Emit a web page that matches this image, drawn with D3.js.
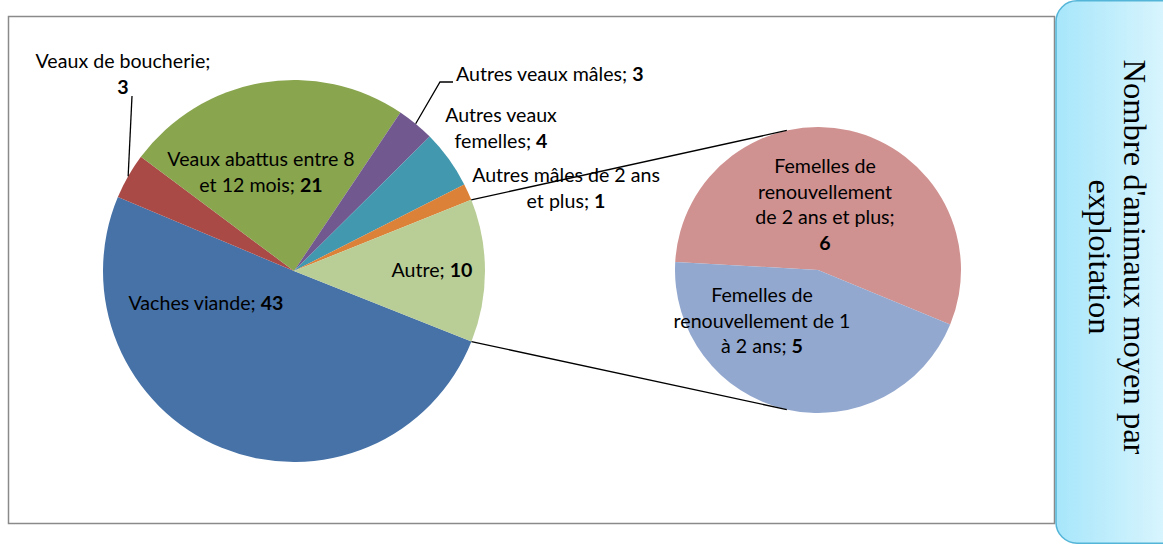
<!DOCTYPE html>
<html>
<head>
<meta charset="utf-8">
<script src="https://cdn.jsdelivr.net/npm/d3@7"></script>
<style>
  html, body { margin: 0; padding: 0; background: #fff; }
  svg { display: block; }
  .lbl { font-family: Lato, "Open Sans", sans-serif; font-size: 19.6px; fill: #000; }
  .side { font-family: "Liberation Serif", "DejaVu Serif", serif; font-size: 32.5px; fill: #000; }
</style>
</head>
<body>
<svg id="chart" width="1163" height="544"></svg>
<script>
// main pie, clockwise from the slice that starts right after "Autre"
var mainNames = ["Vaches viande", "Veaux de boucherie", "Veaux abattus entre 8 et 12 mois",
                 "Autres veaux mâles", "Autres veaux femelles", "Autres mâles de 2 ans et plus", "Autre"];
var mainValues = [42.8, 3.3, 20.6, 2.7, 4.2, 1.2, 10.3];
// how each label wraps; the rounded value goes (bold) after the last line
var mainLines = [
  ["Vaches viande; "],
  ["Veaux de boucherie;", ""],
  ["Veaux abattus entre 8", "et 12 mois; "],
  ["Autres veaux mâles; "],
  ["Autres veaux", "femelles; "],
  ["Autres mâles de 2 ans", "et plus; "],
  ["Autre; "]
];

// second pie : breakdown of "Autre"
var subNames = ["Femelles de renouvellement de 2 ans et plus", "Femelles de renouvellement de 1 à 2 ans"];
var subValues = [5.7, 4.6];
var subLines = [
  ["Femelles de", "renouvellement", "de 2 ans et plus;", ""],
  ["Femelles de", "renouvellement de 1", "à 2 ans; "]
];

var sideTitle = ["Nombre d'animaux moyen par", "exploitation"];

var mainColors = ["#4672a7", "#a94a47", "#89a54e", "#71598f", "#4198af", "#db8238", "#b9cd96"];
var subColors = ["#d09291", "#93a8cf"];

var svg = d3.select("#chart");
var deg = Math.PI / 180;
var lineH = 25.5;

// chart frame
svg.append("rect")
  .attr("x", 8.5).attr("y", 16.5)
  .attr("width", 1046).attr("height", 507)
  .attr("fill", "#fff")
  .attr("stroke", "#8a8a8a")
  .attr("stroke-width", 1.5);

// pies
var main = { cx: 294, cy: 271, r: 191 };
var sub = { cx: 818, cy: 270, r: 143 };

var mainPie = d3.pie().sort(null).startAngle(111.7 * deg).endAngle(471.7 * deg);
var subPie = d3.pie().sort(null).startAngle(-86.8 * deg).endAngle(273.2 * deg);

var mainArcs = mainPie(mainValues);
var subArcs = subPie(subValues);

var mainArc = d3.arc().innerRadius(0).outerRadius(main.r);
var subArc = d3.arc().innerRadius(0).outerRadius(sub.r);

var gMain = svg.append("g").attr("transform", "translate(" + main.cx + "," + main.cy + ")");
var gSub = svg.append("g").attr("transform", "translate(" + sub.cx + "," + sub.cy + ")");

gMain.selectAll("path").data(mainArcs).enter().append("path")
  .attr("d", mainArc)
  .attr("fill", function(d, i) { return mainColors[i]; });

gSub.selectAll("path").data(subArcs).enter().append("path")
  .attr("d", subArc)
  .attr("fill", function(d, i) { return subColors[i]; });

function polar(a, r) { return [r * Math.sin(a), -r * Math.cos(a)]; }

// label placement (relative to the pie centre): x centre, first baseline
var mainLabelPos = [
  { x: -88, y: 39, anchor: "middle" },
  { x: -171, y: -203, anchor: "middle" },
  { x: -33, y: -105, anchor: "middle" },
  { x: 162, y: -190, anchor: "start" },
  { x: 207, y: -149, anchor: "middle" },
  { x: 272, y: -89, anchor: "middle" },
  { x: 138, y: 6, anchor: "middle" }
];
var subLabelPos = [
  { x: 7, y: -97, anchor: "middle" },
  { x: -56, y: 32, anchor: "middle" }
];

// leader lines for the two outside labels that need one
var leaders = [
  { slice: 1, pts: [[-162, -175]] },
  { slice: 3, pts: [[146, -189], [159, -189]] }
];
leaders.forEach(function(l) {
  var d = mainArcs[l.slice];
  var start = polar((d.startAngle + d.endAngle) / 2, main.r);
  gMain.append("path")
    .attr("d", d3.line()([start].concat(l.pts)))
    .attr("fill", "none")
    .attr("stroke", "#000")
    .attr("stroke-width", 1.3);
});

function drawLabels(g, arcs, lines, pos) {
  arcs.forEach(function(d, i) {
    var p = pos[i];
    var t = g.append("text").attr("class", "lbl")
      .attr("text-anchor", p.anchor);
    lines[i].forEach(function(line, j) {
      var ts = t.append("tspan").attr("x", p.x).attr("y", p.y + j * lineH);
      ts.append("tspan").text(line);
      if (j === lines[i].length - 1) {
        ts.append("tspan").attr("font-weight", "bold").text(Math.round(d.value));
      }
    });
  });
}
drawLabels(gMain, mainArcs, mainLines, mainLabelPos);
drawLabels(gSub, subArcs, subLines, subLabelPos);

// connector lines from the edges of "Autre" to the second pie
var autre = mainArcs[mainArcs.length - 1];
var connectors = [
  [polar(autre.startAngle, main.r), polar(-12.6 * deg, sub.r)],
  [polar(autre.endAngle, main.r), polar(192.6 * deg, sub.r)]
];
connectors.forEach(function(c) {
  svg.append("line")
    .attr("x1", main.cx + c[0][0]).attr("y1", main.cy + c[0][1])
    .attr("x2", sub.cx + c[1][0]).attr("y2", sub.cy + c[1][1])
    .attr("stroke", "#000")
    .attr("stroke-width", 1.3);
});

// side title box
var grad = svg.append("defs").append("linearGradient")
  .attr("id", "sideGrad").attr("x1", "0").attr("x2", "1").attr("y1", "0").attr("y2", "0");
grad.append("stop").attr("offset", "0").attr("stop-color", "#a7e6fb");
grad.append("stop").attr("offset", "1").attr("stop-color", "#e6f9fe");

svg.append("rect")
  .attr("x", 1056).attr("y", 0.8)
  .attr("width", 140).attr("height", 542.4)
  .attr("rx", 21).attr("ry", 21)
  .attr("fill", "url(#sideGrad)")
  .attr("stroke", "#55b5d8")
  .attr("stroke-width", 1.5);

var side = svg.append("text").attr("class", "side")
  .attr("text-anchor", "middle")
  .attr("transform", "translate(1106,257) rotate(90)");
sideTitle.forEach(function(line, j) {
  side.append("tspan").attr("x", 0).attr("y", -17.5 + j * 35).text(line);
});
</script>
</body>
</html>
